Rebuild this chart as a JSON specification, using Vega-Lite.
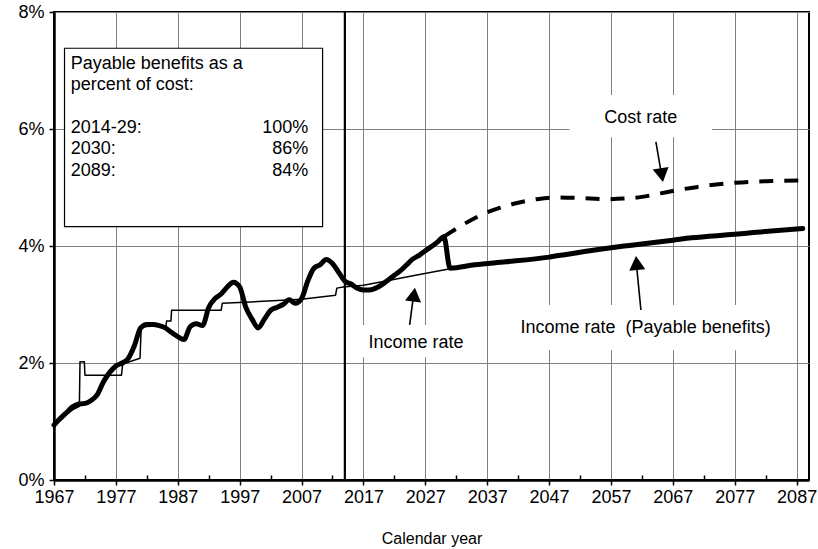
{
  "$schema": "https://vega.github.io/schema/vega-lite/v6.json",
  "width": 755,
  "height": 468,
  "autosize": {"type": "none"},
  "padding": {"left": 54, "top": 12, "right": 9, "bottom": 69},
  "background": "white",
  "config": {
    "font": "Liberation Sans",
    "view": {"stroke": "black", "strokeWidth": 2},
    "axis": {
      "labelFont": "Liberation Sans",
      "labelFontSize": 18,
      "labelColor": "black",
      "titleFont": "Liberation Sans",
      "titleFontSize": 16,
      "titleFontWeight": "normal",
      "titleColor": "black",
      "domainColor": "black",
      "domainWidth": 2.5,
      "tickColor": "black",
      "tickWidth": 1.5,
      "gridColor": "#808080",
      "gridWidth": 1
    }
  },
  "datasets": {
    "thick": [
      {"year": 1967, "v": 0.94}, {"year": 1968, "v": 1.05}, {"year": 1969, "v": 1.15}, {"year": 1970, "v": 1.25},
      {"year": 1971, "v": 1.3}, {"year": 1972, "v": 1.31}, {"year": 1973, "v": 1.36}, {"year": 1974, "v": 1.46},
      {"year": 1975, "v": 1.68}, {"year": 1976, "v": 1.84}, {"year": 1977, "v": 1.95}, {"year": 1978, "v": 2.0},
      {"year": 1979, "v": 2.08}, {"year": 1980, "v": 2.3}, {"year": 1981, "v": 2.6}, {"year": 1982, "v": 2.66},
      {"year": 1983, "v": 2.66}, {"year": 1984, "v": 2.64}, {"year": 1985, "v": 2.6}, {"year": 1986, "v": 2.52},
      {"year": 1987, "v": 2.45}, {"year": 1988, "v": 2.4}, {"year": 1989, "v": 2.62}, {"year": 1990, "v": 2.67},
      {"year": 1991, "v": 2.64}, {"year": 1992, "v": 2.95}, {"year": 1993, "v": 3.1}, {"year": 1994, "v": 3.18},
      {"year": 1995, "v": 3.3}, {"year": 1996, "v": 3.38}, {"year": 1997, "v": 3.3}, {"year": 1998, "v": 2.95},
      {"year": 1999, "v": 2.75}, {"year": 2000, "v": 2.6}, {"year": 2001, "v": 2.75}, {"year": 2002, "v": 2.9},
      {"year": 2003, "v": 2.95}, {"year": 2004, "v": 3.0}, {"year": 2005, "v": 3.08}, {"year": 2006, "v": 3.02},
      {"year": 2007, "v": 3.1}, {"year": 2008, "v": 3.4}, {"year": 2009, "v": 3.62}, {"year": 2010, "v": 3.68},
      {"year": 2011, "v": 3.77}, {"year": 2012, "v": 3.7}, {"year": 2013, "v": 3.55}, {"year": 2014, "v": 3.4},
      {"year": 2015, "v": 3.35}, {"year": 2016, "v": 3.28}, {"year": 2017, "v": 3.25}, {"year": 2018, "v": 3.25},
      {"year": 2019, "v": 3.28}, {"year": 2020, "v": 3.34}, {"year": 2021, "v": 3.42}, {"year": 2022, "v": 3.5},
      {"year": 2023, "v": 3.58}, {"year": 2024, "v": 3.68}, {"year": 2025, "v": 3.78}, {"year": 2026, "v": 3.84},
      {"year": 2027, "v": 3.92}, {"year": 2028, "v": 3.99}, {"year": 2029, "v": 4.07}, {"year": 2030, "v": 4.16},
      {"year": 2031, "v": 3.62}, {"year": 2035, "v": 3.68}, {"year": 2040, "v": 3.73}, {"year": 2047, "v": 3.81},
      {"year": 2050, "v": 3.86}, {"year": 2057, "v": 3.97}, {"year": 2060, "v": 4.01}, {"year": 2067, "v": 4.1},
      {"year": 2070, "v": 4.14}, {"year": 2077, "v": 4.2}, {"year": 2080, "v": 4.23}, {"year": 2088, "v": 4.3}
    ],
    "thin": [
      {"year": 1967, "v": 0.95}, {"year": 1968, "v": 1.02}, {"year": 1969, "v": 1.12}, {"year": 1970, "v": 1.2},
      {"year": 1971.1, "v": 1.26}, {"year": 1971.2, "v": 2.02}, {"year": 1971.9, "v": 2.02}, {"year": 1972.0, "v": 1.79},
      {"year": 1977.9, "v": 1.79}, {"year": 1978.1, "v": 1.98}, {"year": 1979.2, "v": 2.02}, {"year": 1980.9, "v": 2.08},
      {"year": 1981.1, "v": 2.62}, {"year": 1985.1, "v": 2.64}, {"year": 1985.2, "v": 2.72}, {"year": 1985.9, "v": 2.72},
      {"year": 1986.0, "v": 2.9}, {"year": 1994.0, "v": 2.9}, {"year": 1994.2, "v": 3.02}, {"year": 2000, "v": 3.05},
      {"year": 2007, "v": 3.09}, {"year": 2012.5, "v": 3.16}, {"year": 2012.7, "v": 3.28}, {"year": 2013.7, "v": 3.3},
      {"year": 2017, "v": 3.33}, {"year": 2020, "v": 3.39}, {"year": 2025, "v": 3.49}, {"year": 2031, "v": 3.61}
    ],
    "dashed": [
      {"year": 2030, "v": 4.16}, {"year": 2033, "v": 4.36}, {"year": 2036, "v": 4.53}, {"year": 2039, "v": 4.65},
      {"year": 2042, "v": 4.74}, {"year": 2045, "v": 4.8}, {"year": 2048, "v": 4.83}, {"year": 2052, "v": 4.82},
      {"year": 2056, "v": 4.8}, {"year": 2059, "v": 4.81}, {"year": 2062, "v": 4.84}, {"year": 2065, "v": 4.9},
      {"year": 2068, "v": 4.96}, {"year": 2071, "v": 5.01}, {"year": 2074, "v": 5.05}, {"year": 2077, "v": 5.08},
      {"year": 2080, "v": 5.1}, {"year": 2083, "v": 5.11}, {"year": 2088, "v": 5.12}
    ],
    "whiteboxes": [
      {"year": 2050.3, "year2": 2073.3, "v": 6.58, "v2": 5.86},
      {"year": 2015.6, "year2": 2035.2, "v": 2.65, "v2": 2.1},
      {"year": 2039.8, "year2": 2084.9, "v": 2.99, "v2": 2.22}
    ],
    "legendbox": [
      {"year": 1968.7, "year2": 2010.4, "v": 7.38, "v2": 4.33}
    ],
    "legendleft": [
      {"year": 1969.7, "v": 7.11, "label": "Payable benefits as a"},
      {"year": 1969.7, "v": 6.75, "label": "percent of cost:"},
      {"year": 1969.7, "v": 6.02, "label": "2014-29:"},
      {"year": 1969.7, "v": 5.66, "label": "2030:"},
      {"year": 1969.7, "v": 5.28, "label": "2089:"}
    ],
    "legendright": [
      {"year": 2008.1, "v": 6.02, "label": "100%"},
      {"year": 2008.1, "v": 5.66, "label": "86%"},
      {"year": 2008.1, "v": 5.28, "label": "84%"}
    ],
    "notes": [
      {"year": 2061.8, "v": 6.19, "label": "Cost rate"},
      {"year": 2025.5, "v": 2.35, "label": "Income rate"},
      {"year": 2062.6, "v": 2.6, "label": "Income rate\u00a0 (Payable benefits)"}
    ],
    "arrows": [
      {"year": 2064.26, "v": 5.78, "year2": 2065.2, "v2": 5.2},
      {"year": 2024.47, "v": 2.65, "year2": 2025.15, "v2": 3.2},
      {"year": 2061.84, "v": 2.906, "year2": 2061.1, "v2": 3.7}
    ],
    "heads": [
      {"year": 2065.15, "v": 5.25, "angle": 170.6},
      {"year": 2025.12, "v": 3.13, "angle": 7.7},
      {"year": 2061.18, "v": 3.67, "angle": 354.6}
    ],
    "vline": [
      {"year": 2014, "v": 0, "v2": 8}
    ]
  },
  "encoding": {
    "x": {
      "field": "year",
      "type": "quantitative",
      "scale": {"domain": [1967, 2089], "nice": false, "zero": false},
      "axis": {
        "title": "Calendar year",
        "values": [1967, 1972, 1977, 1982, 1987, 1992, 1997, 2002, 2007, 2012, 2017, 2022, 2027, 2032, 2037, 2042, 2047, 2052, 2057, 2062, 2067, 2072, 2077, 2082, 2087],
        "labelExpr": "datum.value % 10 == 7 ? '' + datum.value : ''",
        "grid": true,
        "gridOpacity": {"condition": {"test": "datum.value % 10 == 7", "value": 1}, "value": 0},
        "tickSize": {"condition": {"test": "datum.value % 10 == 7", "value": 5}, "value": -5},
        "labelPadding": 3,
        "labelFlush": false,
        "titlePadding": 24
      }
    },
    "y": {
      "field": "v",
      "type": "quantitative",
      "scale": {"domain": [0, 8], "nice": false, "zero": true},
      "axis": {
        "title": null,
        "values": [0, 2, 4, 6, 8],
        "labelExpr": "datum.value + '%'",
        "grid": true,
        "tickSize": 5,
        "labelPadding": 5
      }
    }
  },
  "layer": [
    {
      "data": {"name": "whiteboxes"},
      "mark": {"type": "rect", "fill": "white", "stroke": null},
      "encoding": {"x2": {"field": "year2"}, "y2": {"field": "v2"}}
    },
    {
      "data": {"name": "legendbox"},
      "mark": {"type": "rect", "fill": "white", "stroke": "black", "strokeWidth": 1.2},
      "encoding": {"x2": {"field": "year2"}, "y2": {"field": "v2"}}
    },
    {
      "data": {"name": "vline"},
      "mark": {"type": "rule", "color": "black", "strokeWidth": 2.2},
      "encoding": {"y2": {"field": "v2"}}
    },
    {
      "data": {"name": "thin"},
      "mark": {"type": "line", "color": "black", "strokeWidth": 1.5, "strokeJoin": "round"},
      "encoding": {}
    },
    {
      "data": {"name": "dashed"},
      "mark": {"type": "line", "color": "black", "strokeWidth": 4, "strokeDash": [14, 11], "interpolate": "monotone"},
      "encoding": {}
    },
    {
      "data": {"name": "thick"},
      "mark": {"type": "line", "color": "black", "strokeWidth": 5, "strokeJoin": "round", "strokeCap": "round", "interpolate": "monotone"},
      "encoding": {}
    },
    {
      "data": {"name": "arrows"},
      "mark": {"type": "rule", "color": "black", "strokeWidth": 1.6},
      "encoding": {"x2": {"field": "year2"}, "y2": {"field": "v2"}}
    },
    {
      "data": {"name": "heads"},
      "mark": {"type": "point", "shape": "triangle", "filled": true, "color": "black", "opacity": 1, "size": 260},
      "encoding": {"angle": {"field": "angle", "type": "quantitative", "scale": null}}
    },
    {
      "data": {"name": "legendleft"},
      "mark": {"type": "text", "align": "left", "baseline": "middle", "font": "Liberation Sans", "fontSize": 18, "color": "black"},
      "encoding": {"text": {"field": "label"}}
    },
    {
      "data": {"name": "legendright"},
      "mark": {"type": "text", "align": "right", "baseline": "middle", "font": "Liberation Sans", "fontSize": 18, "color": "black"},
      "encoding": {"text": {"field": "label"}}
    },
    {
      "data": {"name": "notes"},
      "mark": {"type": "text", "align": "center", "baseline": "middle", "font": "Liberation Sans", "fontSize": 18, "color": "black"},
      "encoding": {"text": {"field": "label"}}
    }
  ]
}
